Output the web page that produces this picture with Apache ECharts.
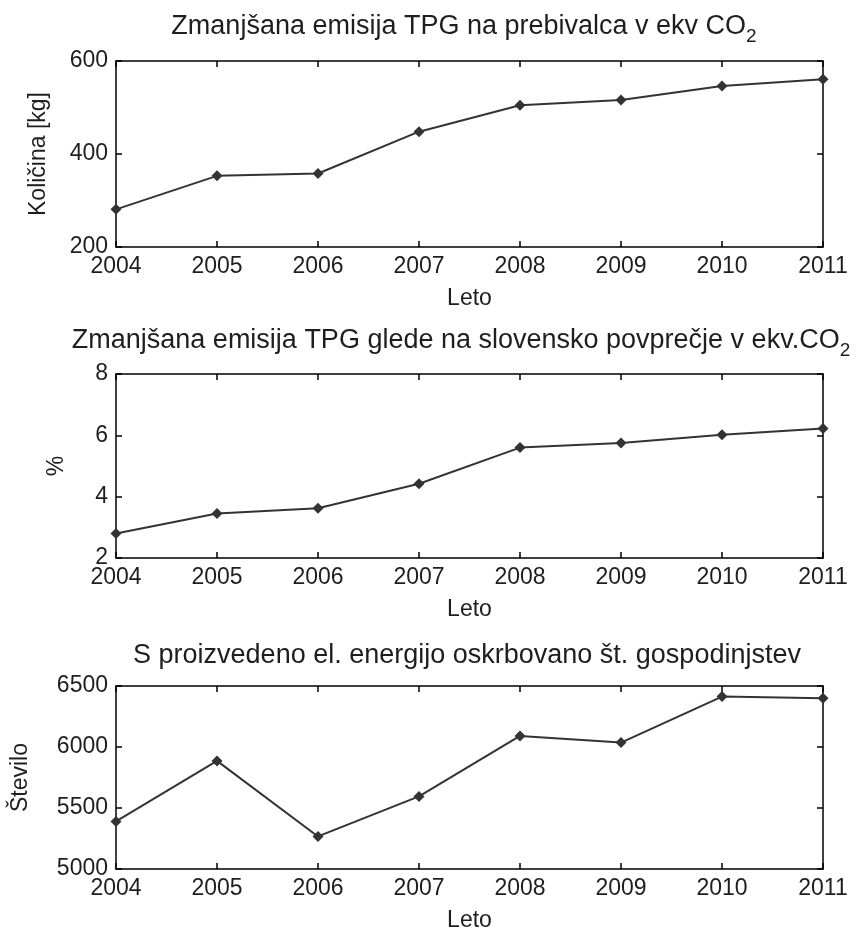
<!DOCTYPE html>
<html>
<head>
<meta charset="utf-8">
<script src="https://cdn.jsdelivr.net/npm/echarts@6/dist/echarts.min.js"></script>
<style>
  html, body { margin: 0; padding: 0; background: #fff; }
  #chart { width: 862px; height: 933px; }
</style>
</head>
<body>
<div id="chart"></div>
<script>
// Years on the shared x axis
const years = ['2004', '2005', '2006', '2007', '2008', '2009', '2010', '2011'];

// Reduced GHG emission per inhabitant, kg CO2 equivalent
const emissionPerCapita = [281, 353, 358, 448, 505, 516, 546, 561];

// Reduced GHG emission relative to Slovenian average, %
const emissionVsAverage = [2.8, 3.45, 3.62, 4.42, 5.6, 5.75, 6.02, 6.22];

// Number of households supplied with produced electricity
const householdsSupplied = [5390, 5886, 5267, 5595, 6091, 6036, 6413, 6400];

// Y-axis ranges and tick labels
const yRange1 = { min: 200, max: 600, interval: 200 };
const yRange2 = { min: 2, max: 8, interval: 2 };
const yRange3 = { min: 5000, max: 6500, interval: 500 };

const titles = [
  '{a|Zmanjšana emisija TPG na prebivalca v ekv CO}{s|2}',
  '{a|Zmanjšana emisija TPG glede na slovensko povprečje v ekv.CO}{s|2}',
  '{a|S proizvedeno el. energijo oskrbovano št. gospodinjstev}'
];
const yNames = ['Količina [kg]', '%', 'Število'];
const xName = 'Leto';

const FONT = 'Liberation Sans, Arial, sans-serif';
const INK = '#1e1e1e';
const LINE = '#333333';

const grids = [
  { left: 116, right: 39, top: 61, height: 186 },
  { left: 116, right: 39, top: 374, height: 184 },
  { left: 116, right: 39, top: 686, height: 183 }
];
const titleTops = [2, 316, 637];
const titleCenters = [459, 456, 462];
const yNameGaps = [66, 48, 84];
const yRanges = [yRange1, yRange2, yRange3];
const seriesData = [emissionPerCapita, emissionVsAverage, householdsSupplied];

const frameLine = { show: true, onZero: false, lineStyle: { color: '#000', width: 1.5 } };
const innerTick = { show: true, inside: true, length: 6, lineStyle: { color: '#000', width: 1.5 } };

const option = {
  animation: false,
  backgroundColor: '#fff',
  title: titles.map((t, i) => ({
    text: t,
    left: titleCenters[i],
    textAlign: 'center',
    top: titleTops[i],
    textStyle: {
      rich: {
        a: { fontFamily: FONT, fontSize: 27, fontWeight: 'normal', color: INK },
        s: { fontFamily: FONT, fontSize: 19, fontWeight: 'normal', color: INK, padding: [20, 0, 0, 0] }
      }
    }
  })),
  grid: grids,
  xAxis: [],
  yAxis: [],
  series: []
};

grids.forEach((g, i) => {
  // bottom axis with labels
  option.xAxis.push({
    type: 'category', gridIndex: i, data: years, boundaryGap: false,
    position: 'bottom',
    axisLine: frameLine, axisTick: innerTick,
    axisLabel: { color: INK, fontFamily: FONT, fontSize: 23, margin: 8 },
    splitLine: { show: false },
    name: xName, nameLocation: 'middle', nameGap: 40,
    nameTextStyle: { color: INK, fontFamily: FONT, fontSize: 23 }
  });
  // mirrored top frame edge
  option.xAxis.push({
    type: 'category', gridIndex: i, data: years, boundaryGap: false,
    position: 'top',
    axisLine: frameLine, axisTick: innerTick,
    axisLabel: { show: false }, splitLine: { show: false }
  });
  const r = yRanges[i];
  option.yAxis.push({
    type: 'value', gridIndex: i, min: r.min, max: r.max, interval: r.interval,
    position: 'left',
    axisLine: frameLine, axisTick: innerTick,
    axisLabel: { color: INK, fontFamily: FONT, fontSize: 23, margin: 8, formatter: v => String(v) },
    splitLine: { show: false },
    name: yNames[i], nameLocation: 'middle', nameRotate: 90, nameGap: yNameGaps[i],
    nameTextStyle: { color: INK, fontFamily: FONT, fontSize: 23 }
  });
  // mirrored right frame edge
  option.yAxis.push({
    type: 'value', gridIndex: i, min: r.min, max: r.max, interval: r.interval,
    position: 'right',
    axisLine: frameLine, axisTick: innerTick,
    axisLabel: { show: false }, splitLine: { show: false }
  });
  option.series.push({
    type: 'line',
    xAxisIndex: i * 2, yAxisIndex: i * 2,
    data: seriesData[i],
    symbol: 'diamond', symbolSize: 11,
    itemStyle: { color: LINE },
    lineStyle: { color: LINE, width: 2 }
  });
});

const chart = echarts.init(document.getElementById('chart'), null, { renderer: 'canvas' });
chart.setOption(option);
</script>
</body>
</html>
